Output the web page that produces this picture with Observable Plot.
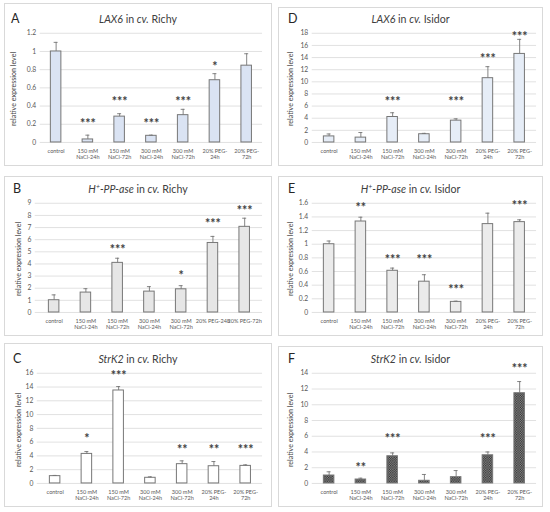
<!DOCTYPE html>
<html>
<head>
<meta charset="utf-8">
<script src="https://cdn.jsdelivr.net/npm/d3@7"></script>
<script src="https://cdn.jsdelivr.net/npm/@observablehq/plot@0.6"></script>
<style>
  body { margin:0; width:550px; height:512px; position:relative; background:#fff; font-family: Lato, "Open Sans", sans-serif; color:#404040; overflow:hidden; }
  .panel { position:absolute; border:1px solid #d9d9d9; box-sizing:border-box; }
  .panel svg { position:absolute; left:-1px; top:-1px; overflow:visible; }
  .title { position:absolute; left:0; right:0; text-align:center; font-size:10.6px; line-height:11px; color:#404040; white-space:nowrap; }
  .letter { position:absolute; font-size:12.5px; line-height:13px; color:#262626; }
  .ylab { position:absolute; font-size:7.1px; line-height:8px; color:#404040; white-space:nowrap; transform:translate(-50%,-50%) rotate(-90deg); }
  sup.p { font-size:0.65em; vertical-align:0; position:relative; top:-0.45em; }
</style>
</head>
<body>
<script>
const keys = ["control","150-24","150-72","300-24","300-72","PEG-24","PEG-72"];
const tickLabels = ["control","150 mM\nNaCl-24h","150 mM\nNaCl-72h","300 mM\nNaCl-24h","300 mM\nNaCl-72h","20% PEG-\n24h","20% PEG-\n72h"];
const tickLabelsB = ["control","150 mM\nNaCl-24h","150 mM\nNaCl-72h","300 mM\nNaCl-24h","300 mM\nNaCl-72h","20% PEG-24h","20% PEG-72h"];

// A: LAX6 in cv. Richy
const laxRichy      = [1.00, 0.033, 0.284, 0.073, 0.300, 0.684, 0.844];
const laxRichyErr   = [0.10, 0.047, 0.032, 0.007, 0.064, 0.072, 0.131];
const laxRichyStars = ["", "***", "***", "***", "***", "*", ""];
const laxRichyStarY = [null, 0.236, 0.473, 0.236, 0.473, 0.865, null];
const laxRichyTicks = [0, 0.2, 0.4, 0.6, 0.8, 1, 1.2];

// D: LAX6 in cv. Isidor
const laxIsidor      = [1.0, 0.80, 4.2, 1.36, 3.6, 10.6, 14.6];
const laxIsidorErr   = [0.4, 0.84, 0.7, 0.14, 0.3, 1.9, 2.4];
const laxIsidorStars = ["", "", "***", "", "***", "***", "***"];
const laxIsidorStarY = [null, null, 7.1, null, 7.1, 14.2, 17.8];
const laxIsidorTicks = [0, 2, 4, 6, 8, 10, 12, 14, 16, 18];

// B: H+-PP-ase in cv. Richy
const ppRichy      = [1.01, 1.64, 4.09, 1.72, 1.91, 5.73, 7.06];
const ppRichyErr   = [0.44, 0.32, 0.38, 0.41, 0.30, 0.54, 0.71];
const ppRichyStars = ["", "", "***", "", "*", "***", "***"];
const ppRichyStarY = [null, null, 5.4, null, 3.27, 7.5, 8.6];
const ppRichyTicks = [0, 1, 2, 3, 4, 5, 6, 7, 8, 9];

// E: H+-PP-ase in cv. Isidor
const ppIsidor      = [1.0, 1.333, 0.611, 0.451, 0.155, 1.295, 1.324];
const ppIsidorErr   = [0.047, 0.063, 0.039, 0.102, 0.010, 0.160, 0.034];
const ppIsidorStars = ["", "**", "***", "***", "***", "", "***"];
const ppIsidorStarY = [null, 1.576, 0.815, 0.815, 0.378, null, 1.6];
const ppIsidorTicks = [0, 0.2, 0.4, 0.6, 0.8, 1, 1.2, 1.4, 1.6];

// C: StrK2 in cv. Richy
const strRichy      = [1.06, 4.29, 13.5, 0.82, 2.8, 2.5, 2.55];
const strRichyErr   = [0.10, 0.34, 0.57, 0.14, 0.48, 0.68, 0.15];
const strRichyStars = ["", "*", "***", "", "**", "**", "***"];
const strRichyStarY = [null, 6.84, 16.0, null, 5.3, 5.3, 5.3];
const strRichyTicks = [0, 2, 4, 6, 8, 10, 12, 14, 16];

// F: StrK2 in cv. Isidor
const strIsidor      = [1.01, 0.50, 3.46, 0.34, 0.80, 3.58, 11.47];
const strIsidorErr   = [0.47, 0.17, 0.42, 0.80, 0.84, 0.42, 1.48];
const strIsidorStars = ["", "**", "***", "", "", "***", "***"];
const strIsidorStarY = [null, 2.28, 5.99, null, null, 5.99, 14.93];
const strIsidorTicks = [0, 2, 4, 6, 8, 10, 12, 14];

const panels = [
  {letter:"A", title:"<i>LAX6</i> in <i>cv.</i> Richy", v:laxRichy, e:laxRichyErr, s:laxRichyStars, sy:laxRichyStarY, ticks:laxRichyTicks, labels:tickLabels,
   fill:"#dae3f3", left:4, top:3, w:268, h:163, ml:36, mt:30, mb:23, titleY:15, letterX:6, ylabX:9},
  {letter:"D", title:"<i>LAX6</i> in <i>cv.</i> Isidor", v:laxIsidor, e:laxIsidorErr, s:laxIsidorStars, sy:laxIsidorStarY, ticks:laxIsidorTicks, labels:tickLabels,
   fill:"#e6edf7", left:278, top:7, w:265, h:159, ml:34, mt:26, mb:23, titleY:11, letterX:9, ylabX:12},
  {letter:"B", title:"<i>H<sup class='p'>+</sup>-PP-ase</i> in <i>cv.</i> Richy", v:ppRichy, e:ppRichyErr, s:ppRichyStars, sy:ppRichyStarY, ticks:ppRichyTicks, labels:tickLabelsB,
   fill:"#e6e6e6", left:4, top:176, w:268, h:160, ml:31, mt:27, mb:23, titleY:12, letterX:8, ylabX:14},
  {letter:"E", title:"<i>H<sup class='p'>+</sup>-PP-ase</i> in <i>cv.</i> Isidor", v:ppIsidor, e:ppIsidorErr, s:ppIsidorStars, sy:ppIsidorStarY, ticks:ppIsidorTicks, labels:tickLabels,
   fill:"#ebebeb", left:278, top:176, w:265, h:160, ml:34, mt:27, mb:23, titleY:12, letterX:9, ylabX:12},
  {letter:"C", title:"<i>StrK2</i> in <i>cv.</i> Richy", v:strRichy, e:strRichyErr, s:strRichyStars, sy:strRichyStarY, ticks:strRichyTicks, labels:tickLabels,
   fill:"#ffffff", left:4, top:343, w:268, h:164, ml:33, mt:30, mb:23, titleY:15, letterX:8, ylabX:14},
  {letter:"F", title:"<i>StrK2</i> in <i>cv.</i> Isidor", v:strIsidor, e:strIsidorErr, s:strIsidorStars, sy:strIsidorStarY, ticks:strIsidorTicks, labels:tickLabels,
   fill:"url(#checker)", left:278, top:346, w:265, h:161, ml:34, mt:27, mb:23, titleY:12, letterX:9, ylabX:12}
];

const fmt = d3.format("~");
const plotRight = 260;

for (const p of panels) {
  const div = document.createElement("div");
  div.className = "panel";
  Object.assign(div.style, {left:p.left+"px", top:p.top+"px", width:p.w+"px", height:p.h+"px"});
  document.body.appendChild(div);

  const data = keys.map((k, i) => ({k, v:p.v[i], e:p.e[i], s:p.s[i], sy:p.sy[i]}));
  const labelOf = new Map(keys.map((k, i) => [k, p.labels[i]]));
  const ymax = p.ticks[p.ticks.length - 1];

  const svg = Plot.plot({
    width: p.w, height: p.h,
    marginLeft: p.ml, marginRight: p.w - plotRight, marginTop: p.mt, marginBottom: p.mb,
    style: {fontFamily: "Lato, 'Open Sans', sans-serif", background: "none", overflow: "visible"},
    x: {domain: keys, padding: 0, axis: null},
    y: {domain: [0, ymax], axis: null},
    marks: [
      Plot.gridY(p.ticks, {stroke: "#d9d9d9", strokeOpacity: 1, strokeWidth: 0.8}),
      Plot.axisY(p.ticks, {tickSize: 0, tickPadding: 4, fontSize: 6.8, fill: "#595959", tickFormat: fmt, label: null}),
      Plot.axisX({tickSize: 0, tickPadding: 6, fontSize: 5.6, lineHeight: 1.1, fill: "#595959", tickFormat: k => labelOf.get(k), label: null}),
      Plot.barY(data, {x: "k", y: "v", fill: p.fill, stroke: "#767676", strokeWidth: 1, insetLeft: 10.7, insetRight: 10.7}),
      Plot.ruleX(data, {x: "k", y1: "v", y2: d => d.v + d.e, stroke: "#767676", strokeWidth: 0.9}),
      Plot.tickY(data, {x: "k", y: d => d.v + d.e, stroke: "#767676", strokeWidth: 0.9, insetLeft: 14, insetRight: 14}),
      Plot.text(data.filter(d => d.s), {x: "k", y: "sy", text: "s", fontSize: 12.5, fontWeight: "bold", dy: 3, fill: "#404040"})
    ]
  });

  if (p.fill.startsWith("url")) {
    const ns = "http://www.w3.org/2000/svg";
    const defs = document.createElementNS(ns, "defs");
    const pat = document.createElementNS(ns, "pattern");
    pat.setAttribute("id", "checker");
    pat.setAttribute("width", "2.4"); pat.setAttribute("height", "2.4");
    pat.setAttribute("patternUnits", "userSpaceOnUse");
    const mk = (x, y, w, h, c) => { const r = document.createElementNS(ns, "rect"); r.setAttribute("x", x); r.setAttribute("y", y); r.setAttribute("width", w); r.setAttribute("height", h); r.setAttribute("fill", c); pat.appendChild(r); };
    mk(0, 0, 2.4, 2.4, "#8e8e8e");
    mk(0, 0, 1.2, 1.2, "#2e2e2e");
    mk(1.2, 1.2, 1.2, 1.2, "#2e2e2e");
    defs.appendChild(pat);
    svg.insertBefore(defs, svg.firstChild);
  }
  div.appendChild(svg);

  const letter = document.createElement("div");
  letter.className = "letter";
  letter.textContent = p.letter;
  Object.assign(letter.style, {left: p.letterX + "px", top: (p.titleY - 7) + "px"});
  div.appendChild(letter);

  const title = document.createElement("div");
  title.className = "title";
  title.innerHTML = p.title;
  title.style.top = (p.titleY - 5.5) + "px";
  div.appendChild(title);

  const ylab = document.createElement("div");
  ylab.className = "ylab";
  ylab.textContent = "relative expression level";
  Object.assign(ylab.style, {left: p.ylabX + "px", top: ((p.mt + p.h - p.mb) / 2) + "px"});
  div.appendChild(ylab);
}
</script>
</body>
</html>
